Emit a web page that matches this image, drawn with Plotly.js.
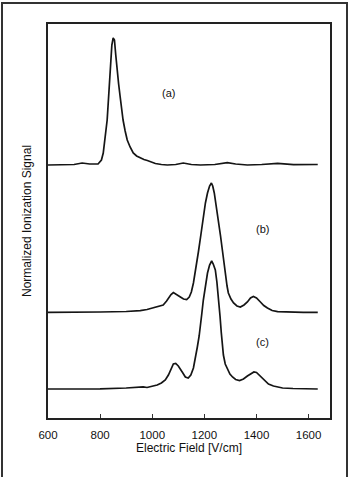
<!DOCTYPE html>
<html>
<head>
<meta charset="utf-8">
<script src="https://cdn.plot.ly/plotly-3.0.1.min.js"></script>
<style>
  html, body { margin: 0; padding: 0; background: #fff; }
  #wrap { position: relative; width: 350px; height: 477px; overflow: hidden; }
  #chart { position: absolute; left: 0; top: 0; width: 350px; height: 477px; }
  #frame { position: absolute; left: 1px; top: 2px; width: 347px; height: 500px;
           border: 2px solid #333; box-sizing: border-box; pointer-events: none; }
</style>
</head>
<body>
<div id="wrap">
  <div id="chart"></div>
  <div id="frame"></div>
</div>
<script>
// Electric field (V/cm) sample points and offset, normalized signals
const xA = [600,650,700,731,760,792,805,812,820,827,833,838,845,850,855,860,865,871,877,883,888,896,904,915,927,940,954,968,981,995,1012,1035,1058,1090,1119,1150,1185,1240,1288,1320,1365,1420,1481,1542,1600,1635];
const yA = [2.53,2.53,2.535,2.55,2.54,2.54,2.58,2.65,2.80,2.98,3.23,3.48,3.73,3.80,3.78,3.63,3.48,3.34,3.21,3.08,2.98,2.87,2.78,2.71,2.65,2.62,2.60,2.585,2.575,2.56,2.545,2.535,2.53,2.535,2.55,2.535,2.53,2.535,2.553,2.54,2.53,2.535,2.547,2.533,2.535,2.535];

const xB = [600,700,800,900,954,980,1004,1025,1042,1055,1062,1072,1081,1092,1108,1120,1132,1142,1150,1158,1168,1177,1187,1196,1204,1212,1220,1227,1232,1238,1246,1254,1262,1269,1275,1281,1287,1292,1302,1312,1325,1338,1352,1365,1377,1388,1400,1415,1428,1442,1460,1481,1520,1580,1635];
const yB = [1.057,1.057,1.06,1.065,1.073,1.085,1.10,1.115,1.13,1.17,1.20,1.235,1.255,1.24,1.21,1.19,1.185,1.21,1.26,1.35,1.50,1.66,1.84,2.01,2.15,2.25,2.32,2.35,2.32,2.25,2.12,1.98,1.82,1.68,1.54,1.41,1.32,1.25,1.19,1.15,1.12,1.11,1.13,1.16,1.20,1.215,1.20,1.16,1.125,1.10,1.075,1.063,1.058,1.057,1.057];

const xC = [600,700,800,900,954,965,980,1000,1019,1035,1050,1062,1072,1081,1090,1100,1115,1127,1138,1148,1158,1166,1173,1180,1185,1190,1196,1204,1212,1220,1228,1234,1242,1248,1254,1260,1265,1269,1273,1280,1288,1298,1308,1320,1335,1350,1365,1378,1390,1400,1412,1427,1446,1465,1500,1540,1580,1635];
const yC = [0.29,0.29,0.292,0.30,0.307,0.312,0.305,0.315,0.33,0.35,0.38,0.43,0.49,0.54,0.545,0.52,0.46,0.41,0.40,0.43,0.50,0.60,0.71,0.82,0.91,1.04,1.18,1.33,1.45,1.53,1.57,1.54,1.48,1.36,1.21,1.02,0.85,0.75,0.63,0.54,0.49,0.44,0.41,0.385,0.375,0.39,0.42,0.445,0.46,0.455,0.425,0.39,0.34,0.32,0.30,0.295,0.29,0.29];

const xTicks = [600, 800, 1000, 1200, 1400, 1600];
const curveLabels = ["(a)", "(b)", "(c)"];
const labelX = [1062, 1423, 1423];
const labelY = [3.25, 1.89, 0.76];

const FONT = "'Liberation Sans', Arial, Helvetica, sans-serif";
const TXT = "#111";
const lineStyle = { color: "#151515", width: 1.7 };

const traces = [
  { x: xA, y: yA, mode: "lines", line: lineStyle, name: "(a)", hoverinfo: "skip" },
  { x: xB, y: yB, mode: "lines", line: lineStyle, name: "(b)", hoverinfo: "skip" },
  { x: xC, y: yC, mode: "lines", line: lineStyle, name: "(c)", hoverinfo: "skip" }
];

const annotations = curveLabels.map((t, i) => ({
  x: labelX[i], y: labelY[i], xref: "x", yref: "y", text: t, showarrow: false,
  font: { family: FONT, size: 11, color: TXT }
}));

const layout = {
  width: 350, height: 477,
  margin: { l: 48, r: 20, t: 24, b: 59, pad: 0 },
  paper_bgcolor: "#fff", plot_bgcolor: "#fff",
  showlegend: false,
  font: { family: FONT, color: TXT },
  xaxis: {
    range: [600, 1682], tickvals: xTicks, ticktext: xTicks.map(String),
    ticks: "inside", ticklen: 4, tickwidth: 1, tickcolor: "#333",
    ticklabelstandoff: 5,
    showline: true, linewidth: 2, linecolor: "#222", mirror: true,
    showgrid: false, zeroline: false,
    tickfont: { family: FONT, size: 11.5, color: TXT },
    title: { text: "Electric Field [V/cm]", font: { family: FONT, size: 12, color: TXT }, standoff: 3 }
  },
  yaxis: {
    range: [0, 3.94], showticklabels: false, ticks: "",
    showline: true, linewidth: 2, linecolor: "#222", mirror: true,
    showgrid: false, zeroline: false,
    title: { text: "Normalized Ionization Signal", font: { family: FONT, size: 12, color: TXT }, standoff: 12 }
  },
  annotations: annotations
};

Plotly.newPlot("chart", traces, layout, { displayModeBar: false, staticPlot: true });
</script>
</body>
</html>
